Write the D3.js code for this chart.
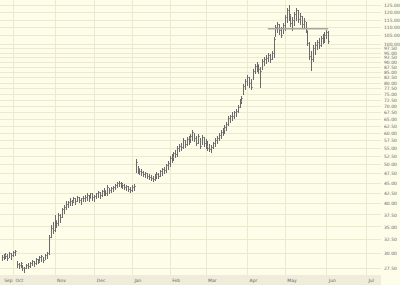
<!DOCTYPE html>
<html>
<head>
<meta charset="utf-8">
<script src="https://cdn.jsdelivr.net/npm/d3@7"></script>
<style>
  body { margin: 0; background: #fdfdea; }
  svg { display: block; }
  .tick-label { font-family: "DejaVu Sans", sans-serif; font-size: 4.5px; fill: #666; }
</style>
</head>
<body>
<svg id="chart" width="400" height="285"></svg>
<script>
// daily bars, index = trading day (Sep 22 .. Jun 4)
var highs = [29.7,29.9,30.1,29.9,30.2,30.1,30.4,30.6,28.7,28.4,28.6,28.1,27.8,28.2,28.4,28.6,28.9,28.7,29.2,29.1,
  29.6,29.7,29.4,29.9,30.2,33.3,35.3,35.9,37.3,36.4,37.9,37.7,39.0,39.7,40.4,40.6,41.1,40.8,41.5,41.3,
  41.8,41.5,41.3,41.8,42.0,42.3,42.0,42.5,42.3,42.0,42.5,43.0,42.7,43.2,43.7,43.2,44.5,43.7,44.0,44.2,
  44.7,45.3,45.5,45.3,45.0,44.7,44.5,44.2,44.0,44.5,44.7,51.6,49.6,49.0,48.7,48.2,47.9,47.6,47.3,47.1,
  46.8,47.3,47.9,47.6,48.4,49.0,49.3,50.1,51.0,52.4,53.0,53.6,54.2,55.5,56.1,56.5,58.1,57.4,58.4,58.8,
  59.4,60.8,59.8,58.8,59.4,58.1,59.1,58.4,57.8,57.1,56.1,55.8,56.8,58.1,58.8,59.8,60.8,61.5,62.6,63.7,
  65.9,66.6,67.4,68.1,68.9,70.5,72.9,74.2,79.4,81.7,83.6,82.6,81.7,86.5,88.9,89.9,88.4,87.4,91.5,92.5,
  93.6,94.6,94.1,95.7,104.2,111.6,113.5,112.2,110.3,112.8,118.1,122.9,125.0,118.8,116.7,120.1,122.9,121.5,119.4,117.4,
  116.1,113.5,108.5,101.3,95.7,99.6,101.3,102.5,103.6,104.8,106.0,107.2,108.5,107.8];
var lows = [28.9,29.1,29.2,28.9,29.4,29.1,29.6,29.7,27.8,27.6,27.8,27.3,27.0,27.5,27.6,27.8,28.1,27.9,28.2,28.4,
  28.6,28.7,28.6,29.1,29.2,29.9,32.9,33.7,34.1,34.9,35.3,36.0,36.9,37.9,38.6,39.2,39.7,39.5,40.2,39.9,
  40.4,40.2,39.9,40.6,40.6,40.8,40.6,41.1,40.8,40.6,41.3,41.5,41.3,41.8,42.0,42.0,42.0,42.3,42.7,43.0,
  43.5,44.0,44.2,44.0,43.7,43.5,43.2,43.0,42.7,43.0,43.2,47.9,47.6,47.3,47.1,46.8,46.6,46.3,46.0,45.8,
  45.5,45.8,46.3,46.3,46.8,47.1,47.6,47.9,48.7,49.6,50.7,51.3,52.1,52.4,53.9,54.2,54.9,55.2,55.8,56.1,
  56.8,57.4,57.1,55.8,56.5,54.9,56.1,55.5,54.9,54.2,53.9,53.6,54.9,55.5,56.5,57.4,58.1,59.1,59.8,60.8,
  62.6,63.7,64.7,65.1,65.9,67.7,69.7,71.3,75.0,77.2,79.0,78.1,77.2,81.7,84.5,85.5,84.5,78.1,86.5,88.4,
  89.4,90.4,89.9,91.5,92.5,104.8,107.2,106.0,104.2,106.6,108.5,113.5,114.8,110.9,108.5,111.6,114.8,113.5,112.2,110.3,
  109.7,107.2,99.6,91.5,86.0,90.4,94.1,96.8,97.9,99.0,100.2,101.3,103.6,100.7];
var closes = [29.4,29.7,29.6,29.2,30.1,29.7,30.2,30.4,28.2,28.1,28.4,27.6,27.5,28.1,27.9,28.4,28.7,28.4,29.1,28.7,
  29.4,29.6,28.9,29.7,30.1,32.9,34.7,34.3,36.4,35.7,37.3,36.9,38.6,39.2,39.9,40.2,40.6,40.4,41.1,40.6,
  41.5,40.8,41.1,41.3,41.5,42.0,41.3,42.3,41.5,41.8,42.3,42.7,42.0,43.0,43.2,42.5,44.0,43.2,43.7,44.0,
  44.5,45.0,45.0,44.7,44.5,44.0,44.2,43.5,43.2,44.0,44.2,50.7,49.0,48.2,47.9,47.3,47.6,46.8,46.6,46.3,
  46.0,47.1,47.3,46.8,48.2,48.7,48.4,49.8,50.4,51.9,52.1,53.4,53.0,54.9,55.5,55.2,57.4,56.1,57.8,58.1,
  58.8,60.1,58.1,56.5,58.8,55.5,58.4,56.5,55.5,54.9,54.5,55.2,56.5,57.4,58.1,59.1,60.1,61.2,61.9,62.9,
  65.1,65.9,66.2,67.4,68.1,69.7,72.1,73.3,78.5,80.8,82.6,79.9,78.1,85.5,87.9,88.9,86.5,85.5,90.4,91.5,
  92.0,93.6,91.5,94.6,103.0,110.3,112.2,108.5,105.4,111.6,116.7,121.5,118.1,112.8,114.8,118.8,121.5,115.4,117.4,112.2,
  114.1,108.5,100.7,93.0,91.5,97.9,99.6,101.3,99.6,103.6,104.8,105.4,107.2,101.9];

var months = ["Sep","Oct","Nov","Dec","Jan","Feb","Mar","Apr","May","Jun","Jul"];
var monthStarts = [0,6,28,49,69,89,108,130,150,172,193];
var priceTicks = [27.5,30,32.5,35,37.5,40,42.5,45,47.5,50,52.5,55,57.5,60,62.5,65,67.5,70,72.5,75,77.5,
  80,82.5,85,87.5,90,92.5,95,97.5,100,105,110,115,120,125];
var resistanceLevel = 109;
var resistanceSpan = [141, 173];

var width = 400, height = 285;
var plotRight = 381, plotBottom = 275;

var svg = d3.select("#chart");

var x = d3.scaleLinear().domain([6, 193]).range([13, 366]);
var y = d3.scaleLog().domain([27.5, 125]).range([268.4, 5]);

svg.append("rect")
	.attr("x", 0).attr("y", 0)
	.attr("width", width).attr("height", height)
	.attr("fill", "#fdfdea");

// horizontal grid
var grid = svg.append("g").attr("shape-rendering", "crispEdges");
grid.selectAll("line.h")
	.data(priceTicks)
	.enter().append("line")
	.attr("class", "h")
	.attr("x1", 0).attr("x2", plotRight)
	.attr("y1", function (d) { return Math.round(y(d)) + 0.5; })
	.attr("y2", function (d) { return Math.round(y(d)) + 0.5; })
	.attr("stroke", "#ede9cc");

// vertical grid at month starts
grid.selectAll("line.v")
	.data(monthStarts.slice(1))
	.enter().append("line")
	.attr("class", "v")
	.attr("x1", function (d) { return Math.round(x(d)) + 0.5; })
	.attr("x2", function (d) { return Math.round(x(d)) + 0.5; })
	.attr("y1", 0).attr("y2", plotBottom)
	.attr("stroke", "#ede9cc");

// right axis labels
var yAxis = d3.axisRight(y).tickValues(priceTicks).tickSize(0).tickFormat(d3.format(".2f"));
var ya = svg.append("g")
	.attr("transform", "translate(381,0)")
	.call(yAxis);
ya.select(".domain").remove();
ya.selectAll("text").attr("class", "tick-label").attr("x", 3).attr("dy", "0.35em");

// bottom strip
svg.append("rect")
	.attr("x", 0).attr("y", plotBottom)
	.attr("width", plotRight).attr("height", height - plotBottom)
	.attr("fill", "#efedd9");

var xAxis = d3.axisBottom(x).tickValues(monthStarts).tickSize(0)
	.tickFormat(function (d, i) { return months[i]; });
var xa = svg.append("g")
	.attr("transform", "translate(0," + plotBottom + ")")
	.call(xAxis);
xa.select(".domain").remove();
xa.selectAll("text")
	.attr("class", "tick-label")
	.attr("text-anchor", "start")
	.attr("x", 2).attr("y", 5).attr("dy", "0.35em");

// HLC bars
var bars = svg.append("g")
	.attr("stroke", "#6a6a6a")
	.attr("stroke-width", 1)
	.attr("shape-rendering", "crispEdges");
var idx = d3.range(highs.length);
bars.selectAll("line.range")
	.data(idx)
	.enter().append("line")
	.attr("class", "range")
	.attr("x1", function (i) { return Math.round(x(i)) + 0.5; })
	.attr("x2", function (i) { return Math.round(x(i)) + 0.5; })
	.attr("y1", function (i) { return y(highs[i]); })
	.attr("y2", function (i) { return y(lows[i]) + 1; });
bars.selectAll("line.close")
	.data(idx)
	.enter().append("line")
	.attr("class", "close")
	.attr("stroke", "#9a9a9a")
	.attr("x1", function (i) { return Math.round(x(i)) + 1; })
	.attr("x2", function (i) { return Math.round(x(i)) + 2; })
	.attr("y1", function (i) { return Math.round(y(closes[i])) + 0.5; })
	.attr("y2", function (i) { return Math.round(y(closes[i])) + 0.5; });

// drawn resistance line
svg.append("line")
	.attr("x1", x(resistanceSpan[0])).attr("x2", x(resistanceSpan[1]))
	.attr("y1", y(resistanceLevel)).attr("y2", y(resistanceLevel))
	.attr("stroke", "#a8a8a0")
	.attr("stroke-width", 1.5);
</script>
</body>
</html>
